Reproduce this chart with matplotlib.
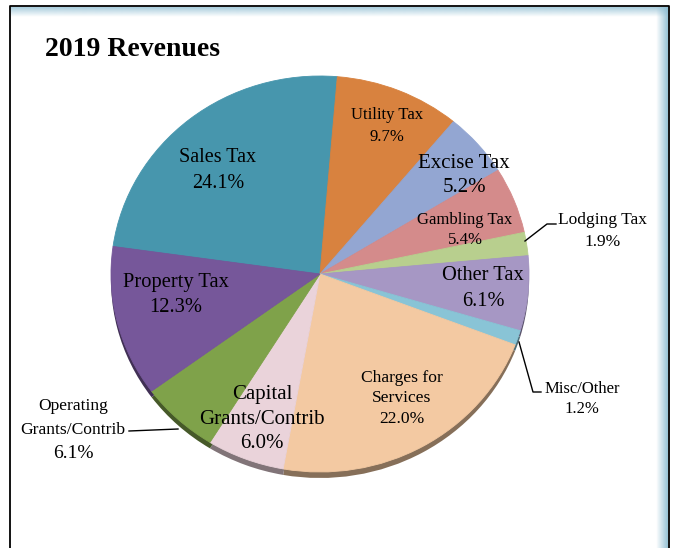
import numpy as np
import matplotlib.pyplot as plt
import matplotlib.colors as mcolors

# ------------------
# DATA
# ------------------
categories = ['Sales Tax', 'Utility Tax', 'Excise Tax', 'Gambling Tax', 'Lodging Tax',
              'Other Tax', 'Misc/Other', 'Charges for\nServices', 'Capital\nGrants/Contrib',
              'Operating\nGrants/Contrib', 'Property Tax']
values = [24.1, 9.7, 5.2, 5.4, 1.9, 6.1, 1.2, 22.0, 6.0, 6.1, 12.3]
colors = ['#4796ad', '#d8823f', '#93a6d2', '#d48b8b', '#b8cf8e', '#a697c4',
          '#89c4d6', '#f3c9a2', '#ead3da', '#7fa24a', '#76579a']

# ------------------
# LAYOUT (pixels)
# ------------------
W, H = 678, 548
cx, cy = 320, 274
rx, ry = 209, 198
rim = 6

plt.rcParams['font.family'] = ['Liberation Serif', 'DejaVu Serif']

fig = plt.figure(figsize=(W / 100, H / 100), dpi=100)

# frame with soft blue inner edge
bg = fig.add_axes([0, 0, 1, 1])
bg.set_xlim(0, W)
bg.set_ylim(H, 0)
bg.axis('off')

blue = np.array(mcolors.to_rgb('#8dbdd2'))
top_band = np.zeros((20, 1, 4))
top_band[..., :3] = blue
top_band[:, 0, 3] = np.linspace(0.75, 0, 20)
bg.imshow(top_band, extent=(11, 668, 17, 7), aspect='auto', interpolation='bilinear', zorder=1)
right_band = np.zeros((1, 20, 4))
right_band[..., :3] = blue
right_band[0, :, 3] = np.linspace(0, 0.9, 20)
bg.imshow(right_band, extent=(656, 668, H, 7), aspect='auto', interpolation='bilinear', zorder=1)
bg.set_xlim(0, W)
bg.set_ylim(H, 0)

bg.plot([10, 10, 669, 669], [H, 6, 6, H], color='black', lw=1.3, zorder=2)

# ------------------
# PIE (slightly flattened, with a dark rim underneath)
# ------------------
pad = rim + 4
ax = fig.add_axes([(cx - rx) / W, 1 - (cy + ry + pad) / H, 2 * rx / W, (2 * ry + pad) / H])
start = 172

dark = [tuple(np.array(mcolors.to_rgb(c)) * 0.55) for c in colors]
ax.pie(values, colors=dark, startangle=start, counterclock=False, radius=1,
       center=(0, -rim / ry), wedgeprops=dict(linewidth=0.5, edgecolor='none'))
wedges, _ = ax.pie(values, colors=colors, startangle=start, counterclock=False, radius=1,
                   center=(0, 0), wedgeprops=dict(linewidth=0.6))
for w, c in zip(wedges, colors):
    w.set_edgecolor(c)
ax.set_aspect('auto')
ax.set_xlim(-1, 1)
ax.set_ylim(-1 - pad / ry, 1)
ax.axis('off')

# ------------------
# LABELS
# ------------------
ov = fig.add_axes([0, 0, 1, 1])
ov.set_xlim(0, W)
ov.set_ylim(H, 0)
ov.axis('off')
ov.patch.set_alpha(0)

ov.text(45, 50, '2019 Revenues', fontsize=20, fontweight='bold', ha='left', va='center')

# x, y, name size, percent size, line spacing
label_pos = {
    'Sales Tax': (218, 157, 14.5, 14.5, 26),
    'Utility Tax': (387, 115, 12, 12, 22),
    'Excise Tax': (464, 164, 15, 15, 23),
    'Gambling Tax': (465, 220, 12, 12, 20),
    'Lodging Tax': (603, 220, 12.5, 12.5, 22),
    'Other Tax': (483, 276, 14.7, 14.7, 25),
    'Misc/Other': (582, 389, 12, 12, 20),
    'Charges for\nServices': (402, 378, 12.6, 12.6, 20.5),
    'Capital\nGrants/Contrib': (262, 395, 15, 15, 24),
    'Operating\nGrants/Contrib': (73, 406, 12.6, 14, 24),
    'Property Tax': (176, 283, 14.8, 14.8, 25),
}

for name, v in zip(categories, values):
    x, y, fs, pfs, step = label_pos[name]
    lines = name.split('\n')
    for i, line in enumerate(lines):
        ov.text(x, y + i * step, line, fontsize=fs, ha='center', va='center')
    ov.text(x, y + len(lines) * step - (1 if pfs > fs else 0), f'{v:.1f}%',
            fontsize=pfs, ha='center', va='center')

# leader lines for the thin outer slices
ov.plot([525, 547, 556], [241, 224, 224], color='black', lw=1)
ov.plot([519, 533, 541], [342, 392, 392], color='black', lw=1)
ov.plot([129, 178], [431, 429], color='black', lw=1)

fig.savefig('out.png', dpi=100)
